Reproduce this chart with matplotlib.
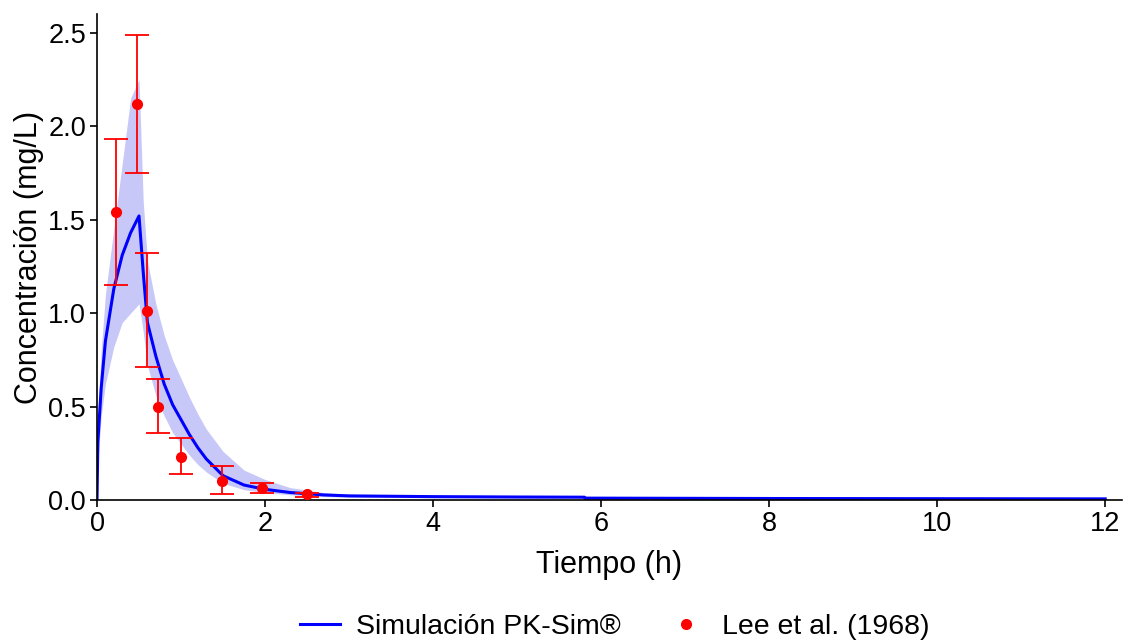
import matplotlib
matplotlib.use("Agg")
import matplotlib.pyplot as plt
from matplotlib.lines import Line2D

plt.rcParams['font.family'] = ['Liberation Sans', 'DejaVu Sans']

# Simulation (PK-Sim)
sim_t = [0, 0.01, 0.05, 0.1, 0.2, 0.3, 0.4, 0.5, 0.55, 0.6, 0.7, 0.8, 0.9, 1.0,
         1.1, 1.2, 1.3, 1.5, 1.75, 2.0, 2.3, 2.7, 3.0, 4.0, 5.0, 5.8, 5.81, 8.0, 12.0]
sim_mean = [0, 0.31, 0.6, 0.85, 1.13, 1.31, 1.43, 1.52, 1.22, 0.95, 0.77, 0.62, 0.51, 0.43,
            0.35, 0.28, 0.22, 0.13, 0.08, 0.057, 0.04, 0.027, 0.022, 0.018, 0.016, 0.015, 0.01, 0.008, 0.006]
sim_upper = [0, 0.45, 0.8, 1.1, 1.45, 1.8, 2.15, 2.25, 1.6, 1.28, 1.05, 0.88, 0.75, 0.65,
             0.55, 0.46, 0.38, 0.26, 0.16, 0.11, 0.066, 0.04, 0.03, 0.025, 0.022, 0.02, 0.015, 0.012, 0.01]
sim_lower = [0, 0.2, 0.45, 0.62, 0.82, 0.95, 1.0, 1.05, 0.9, 0.72, 0.56, 0.45, 0.36, 0.3,
             0.24, 0.19, 0.15, 0.09, 0.055, 0.04, 0.028, 0.018, 0.015, 0.012, 0.011, 0.01, 0.007, 0.005, 0.004]

# Observed data Lee et al. (1968)
obs_t = [0.23, 0.48, 0.59, 0.72, 1.0, 1.49, 1.96, 2.5]
obs_mean = [1.54, 2.12, 1.01, 0.50, 0.23, 0.10, 0.065, 0.03]
obs_upper = [1.93, 2.49, 1.32, 0.65, 0.33, 0.18, 0.09, 0.04]
obs_lower = [1.15, 1.75, 0.71, 0.36, 0.14, 0.03, 0.035, 0.015]

fig = plt.figure(figsize=(11.28, 6.43), dpi=100)
ax = fig.add_axes([0.086, 0.2224, 0.9087, 0.7556])

ax.fill_between(sim_t, sim_lower, sim_upper, color='#c8c8f8', linewidth=0, zorder=1)
ax.plot(sim_t, sim_mean, color='#0000ff', lw=2.2, zorder=2)

yerr = [[m - l for m, l in zip(obs_mean, obs_lower)],
        [u - m for m, u in zip(obs_mean, obs_upper)]]
ax.errorbar(obs_t, obs_mean, yerr=yerr, fmt='none', ecolor='#ff0000', elinewidth=1.3,
            capsize=8.5, capthick=1.3, zorder=3)
ax.plot(obs_t, obs_mean, 'o', color='#ff0000', ms=7, zorder=4)

ax.set_xlim(0, 12.2)
ax.set_ylim(0, 2.6)
ax.set_xticks([0, 2, 4, 6, 8, 10, 12])
ax.set_yticks([0.0, 0.5, 1.0, 1.5, 2.0, 2.5])
ax.set_yticklabels(['0.0', '0.5', '1.0', '1.5', '2.0', '2.5'])
for s in ['top', 'right']:
    ax.spines[s].set_visible(False)
for s in ['left', 'bottom']:
    ax.spines[s].set_linewidth(1.2)
ax.tick_params(axis='both', labelsize=19.5, length=5, width=1.2, colors='black', pad=3)
ax.set_xlabel('Tiempo (h)', fontsize=22, labelpad=9)
ax.set_ylabel('Concentración (mg/L)', fontsize=22, labelpad=3)

handles = [Line2D([0], [0], color='#0000ff', lw=2.2),
           Line2D([0], [0], marker='o', color='#ff0000', ls='none', ms=7)]
fig.legend(handles, ['Simulación PK-Sim®', 'Lee et al. (1968)'], loc='center',
           bbox_to_anchor=(0.545, 0.025), ncol=2, frameon=False, fontsize=20.5,
           handlelength=1.4, handletextpad=0.55, columnspacing=1.6)

fig.savefig('out.png', dpi=100)
